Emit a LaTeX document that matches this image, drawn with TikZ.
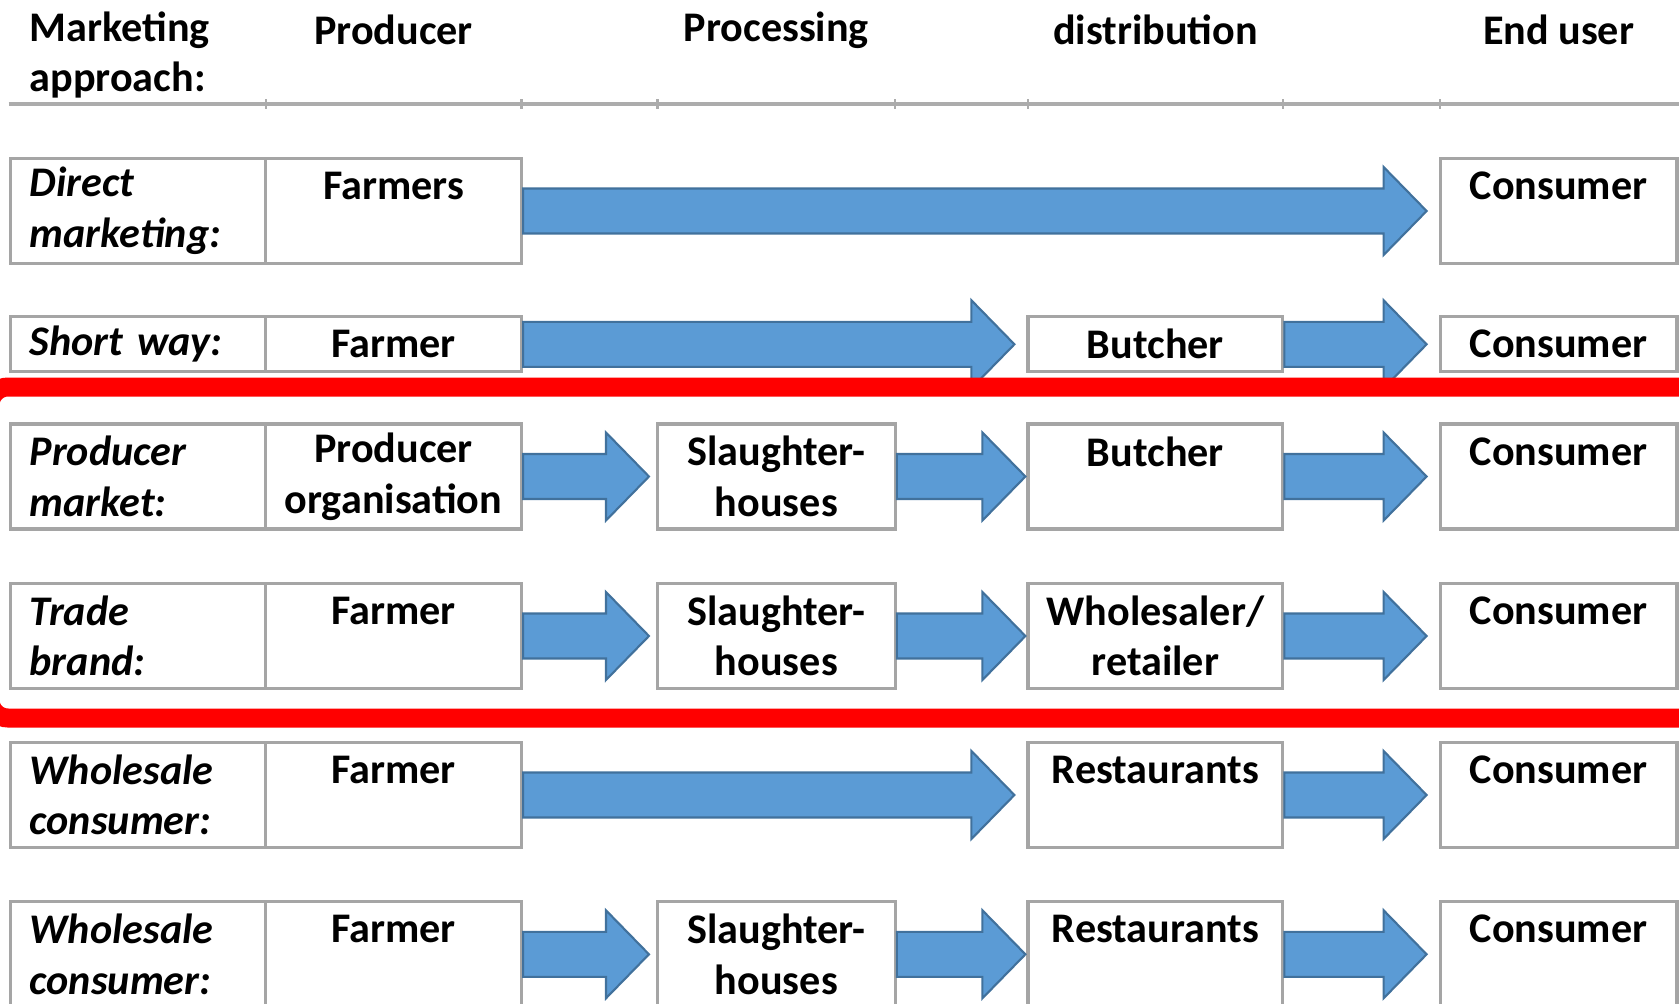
\documentclass[tikz,border=0pt]{standalone}
\usepackage{fontspec}
\setmainfont{Carlito}
\usetikzlibrary{calc}
\definecolor{flowblue}{RGB}{91,155,213}
\definecolor{flowedge}{RGB}{65,113,156}
\definecolor{cellgray}{RGB}{165,165,165}
\definecolor{rulegray}{RGB}{172,172,172}
\definecolor{markred}{RGB}{255,0,0}

\tikzset{
  cell/.style={draw=cellgray, line width=0.9pt, inner sep=0pt, align=center,
    minimum width=#1, minimum height=1.05cm},
  cell/.default=2.55cm,
  lab/.style={cell, align=left, text width=2.17cm, inner xsep=0.19cm,
    font=\fontsize{12}{14.4}\selectfont\bfseries\itshape},
  flat/.style={minimum height=0.55cm},
  flow/.style={fill=flowblue, draw=flowedge, line width=0.6pt,
    to path={let \p1=(\tikztostart), \p2=(\tikztotarget) in
      (\x1,\y1+0.225cm) -- (\x2-#1-0.43cm,\y1+0.225cm)
      -- (\x2-#1-0.43cm,\y1+0.44cm) -- (\x2-#1,\y1)
      -- (\x2-#1-0.43cm,\y1-0.44cm) -- (\x2-#1-0.43cm,\y1-0.225cm)
      -- (\x1,\y1-0.225cm) -- cycle}},
  flow/.default=0.12cm,
  headrule/.style={draw=rulegray, line width=1.2pt},
  highlight/.style={draw=markred, line width=0.19cm, rounded corners=0.18cm}
}

\begin{document}
\begin{tikzpicture}[y=-1cm, font=\fontsize{12}{14.4}\selectfont\bfseries]
  \clip (0,0) rectangle (16.79,10.04);
  %% Column heads
  \node[anchor=west, align=left, inner sep=0pt] (hLab) at (0.29,0.55) {Marketing\\approach:};
  \node (hProd) at (3.935,0.30) {Producer};
  \node (hProc) at (7.764,0.30) {Processing};
  \node (hDist) at (11.554,0.30) {distribution};
  \node (hEnd) at (15.586,0.30) {End user};
  \draw[headrule] (0.086,1.04) -- (16.79,1.04);
  \draw[draw=rulegray, line width=0.6pt] (2.656,0.99) -- ++(0,0.1) (5.215,0.99) -- ++(0,0.1)
    (6.575,0.99) -- ++(0,0.1) (8.952,0.99) -- ++(0,0.1) (10.28,0.99) -- ++(0,0.1)
    (12.828,0.99) -- ++(0,0.1) (14.402,0.99) -- ++(0,0.1);
  %% Direct marketing
  \node[lab] (lab1) at (1.382,2.11) {Direct\\marketing:};
  \node[cell=2.56cm] (prod1) at (3.935,2.11) {Farmers\\~};
  \node[cell=2.368cm] (end1) at (15.586,2.11) {Consumer\\~};
  \draw[flow] (prod1.east) to (end1.west);
  %% Short way
  \node[lab, flat] (lab2) at (1.382,3.443) {Short way:};
  \node[cell=2.56cm, flat] (prod2) at (3.935,3.443) {Farmer};
  \node[cell=2.548cm, flat] (dist2) at (11.554,3.443) {Butcher};
  \node[cell=2.368cm, flat] (end2) at (15.586,3.443) {Consumer};
  \draw[flow] (prod2.east) to (dist2.west);
  \draw[flow] (dist2.east) to (end2.west);
  %% Producer market
  \node[lab] (lab3) at (1.382,4.765) {Producer\\market:};
  \node[cell=2.56cm] (prod3) at (3.935,4.765) {Producer\\organisation};
  \node[cell=2.377cm] (proc3) at (7.764,4.765) {Slaughter-\\houses};
  \node[cell=2.548cm] (dist3) at (11.554,4.765) {Butcher\\~};
  \node[cell=2.368cm] (end3) at (15.586,4.765) {Consumer\\~};
  \draw[flow=0.07cm] (prod3.east) to (proc3.west);
  \draw[flow=0.01cm] (proc3.east) to (dist3.west);
  \draw[flow] (dist3.east) to (end3.west);
  %% Trade brand
  \node[lab] (lab4) at (1.382,6.36) {Trade\\brand:};
  \node[cell=2.56cm] (prod4) at (3.935,6.36) {Farmer\\~};
  \node[cell=2.377cm] (proc4) at (7.764,6.36) {Slaughter-\\houses};
  \node[cell=2.548cm] (dist4) at (11.554,6.36) {Wholesaler/\\retailer};
  \node[cell=2.368cm] (end4) at (15.586,6.36) {Consumer\\~};
  \draw[flow=0.07cm] (prod4.east) to (proc4.west);
  \draw[flow=0.01cm] (proc4.east) to (dist4.west);
  \draw[flow] (dist4.east) to (end4.west);
  %% Wholesale consumer (direct)
  \node[lab] (lab5) at (1.382,7.95) {Wholesale\\consumer:};
  \node[cell=2.56cm] (prod5) at (3.935,7.95) {Farmer\\~};
  \node[cell=2.548cm] (dist5) at (11.554,7.95) {Restaurants\\~};
  \node[cell=2.368cm] (end5) at (15.586,7.95) {Consumer\\~};
  \draw[flow] (prod5.east) to (dist5.west);
  \draw[flow] (dist5.east) to (end5.west);
  %% Wholesale consumer (via slaughterhouse)
  \node[lab] (lab6) at (1.382,9.543) {Wholesale\\consumer:};
  \node[cell=2.56cm] (prod6) at (3.935,9.543) {Farmer\\~};
  \node[cell=2.377cm] (proc6) at (7.764,9.543) {Slaughter-\\houses};
  \node[cell=2.548cm] (dist6) at (11.554,9.543) {Restaurants\\~};
  \node[cell=2.368cm] (end6) at (15.586,9.543) {Consumer\\~};
  \draw[flow=0.07cm] (prod6.east) to (proc6.west);
  \draw[flow=0.01cm] (proc6.east) to (dist6.west);
  \draw[flow] (dist6.east) to (end6.west);
  %% Red frame round the two middle rows
  \draw[highlight] (-0.10,3.87) rectangle (17.2,7.18);
\end{tikzpicture}
\end{document}
